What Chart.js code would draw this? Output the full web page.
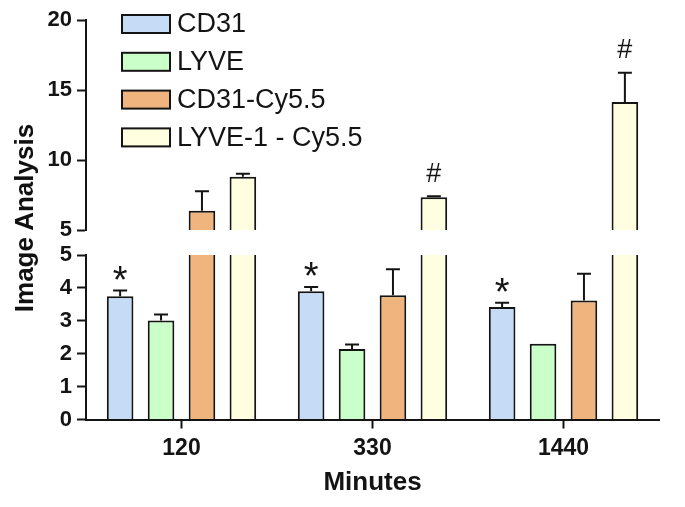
<!DOCTYPE html>
<html><head><meta charset="utf-8">
<script src="https://cdn.jsdelivr.net/npm/chart.js@4.4.1/dist/chart.umd.min.js"></script>
<style>
html,body{margin:0;padding:0;background:#fff;}
#wrap{position:relative;width:685px;height:507px;overflow:hidden;background:#fff;}
#topBox{position:absolute;left:0;top:0;width:685px;height:240px;}
#botBox{position:absolute;left:0;top:240px;width:685px;height:267px;}
#ytitle{position:absolute;left:-126px;top:203px;width:300px;height:30px;line-height:30px;text-align:center;transform:rotate(-90deg);font:bold 26px "Liberation Sans",Arial,sans-serif;color:#111;white-space:nowrap;}
</style></head>
<body>
<div id="wrap">
  <div id="topBox"><canvas id="cTop"></canvas></div>
  <div id="botBox"><canvas id="cBot"></canvas></div>
  <div id="ytitle">Image Analysis</div>
</div>
<script>
// ---- data ----
const categories = ['120', '330', '1440'];
const seriesNames = ['CD31', 'LYVE', 'CD31-Cy5.5', 'LYVE-1 - Cy5.5'];
const cd31 = [3.75, 3.90, 3.42];
const cd31Err = [0.17, 0.13, 0.13];
const lyve = [3.01, 2.14, 2.30];
const lyveErr = [0.18, 0.14, 0];
const cd31Cy = [6.38, 3.78, 3.62];
const cd31CyErr = [1.38, 0.79, 0.81];
const lyve1Cy = [8.81, 7.34, 14.14];
const lyve1CyErr = [0.21, 0.07, 2.10];
const cd31Marks = ['*', '*', '*'];
const lyveMarks = ['', '', ''];
const cd31CyMarks = ['', '', ''];
const lyve1CyMarks = ['', '#', '#'];
const topTicks = [5, 10, 15, 20];
const bottomTicks = [0, 1, 2, 3, 4, 5];

// ---- styles ----
const FAMILY = '"Liberation Sans", Arial, Helvetica, sans-serif';
const INK = '#141414';
const fills = ['#c6dbf5', '#caffca', '#f0b57e', '#fffee0'];

function makeDatasets() {
  const vals = [cd31, lyve, cd31Cy, lyve1Cy];
  const errs = [cd31Err, lyveErr, cd31CyErr, lyve1CyErr];
  const marks = [cd31Marks, lyveMarks, cd31CyMarks, lyve1CyMarks];
  return seriesNames.map((name, i) => ({
    label: name,
    data: vals[i].slice(),
    errors: errs[i],
    marks: marks[i],
    backgroundColor: fills[i],
    borderColor: INK,
    borderWidth: 2,
    borderSkipped: 'start',
    categoryPercentage: 0.857,
    barPercentage: 0.65
  }));
}

const errorPlugin = {
  id: 'errorBars',
  afterDatasetsDraw(chart) {
    const ctx = chart.ctx, ca = chart.chartArea, ys = chart.scales.y;
    ctx.save();
    ctx.beginPath();
    ctx.rect(ca.left, ca.top - 1, ca.right - ca.left, ca.bottom - ca.top + 1);
    ctx.clip();
    ctx.strokeStyle = INK;
    ctx.lineWidth = 2;
    chart.data.datasets.forEach((ds, i) => {
      const meta = chart.getDatasetMeta(i);
      meta.data.forEach((bar, j) => {
        const e = ds.errors[j];
        if (!e) return;
        const x = bar.x;
        const y0 = ys.getPixelForValue(ds.data[j]);
        const y1 = ys.getPixelForValue(ds.data[j] + e);
        ctx.beginPath();
        ctx.moveTo(x, y0); ctx.lineTo(x, y1);
        ctx.moveTo(x - 7, y1); ctx.lineTo(x + 7, y1);
        ctx.stroke();
      });
    });
    ctx.restore();
    // significance marks
    ctx.save();
    ctx.fillStyle = INK;
    ctx.textAlign = 'center';
    ctx.textBaseline = 'alphabetic';
    chart.data.datasets.forEach((ds, i) => {
      const meta = chart.getDatasetMeta(i);
      meta.data.forEach((bar, j) => {
        const m = ds.marks[j];
        if (!m) return;
        const yt = ys.getPixelForValue(ds.data[j] + (ds.errors[j] || 0));
        if (yt < ca.top || yt > ca.bottom) return;
        const star = m === '*';
        ctx.font = (star ? '38px ' : '27px ') + FAMILY;
        const tm = ctx.measureText(m);
        const cy = yt - (star ? 18 : 24);
        const base = cy + (tm.actualBoundingBoxAscent - tm.actualBoundingBoxDescent) / 2;
        ctx.fillText(m, bar.x, base);
      });
    });
    ctx.restore();
  }
};

const legendPlugin = {
  id: 'boxLegend',
  afterDraw(chart) {
    const ctx = chart.ctx;
    ctx.save();
    ctx.font = '27px ' + FAMILY;
    ctx.textBaseline = 'middle';
    ctx.textAlign = 'left';
    chart.data.datasets.forEach((ds, i) => {
      const cy = 24 + i * 37.8;
      ctx.fillStyle = ds.backgroundColor;
      ctx.fillRect(122, cy - 9, 48, 18);
      ctx.strokeStyle = INK;
      ctx.lineWidth = 2;
      ctx.strokeRect(122, cy - 9, 48, 18);
      ctx.fillStyle = INK;
      ctx.fillText(ds.label, 177, cy + 1);
    });
    ctx.restore();
  }
};

function yScale(min, max, step, ticksList) {
  return {
    min: min, max: max,
    afterFit(s) { s.width = 86; s.paddingTop = 0; s.paddingBottom = 0; },
    afterBuildTicks(s) { s.ticks = ticksList.map(v => ({ value: v })); },
    border: { display: true, color: INK, width: 2 },
    grid: { display: true, drawOnChartArea: false, drawTicks: true, tickLength: 9, tickColor: INK, tickWidth: 2 },
    ticks: { stepSize: step, padding: 5, color: INK, font: { family: FAMILY, size: 22, weight: 'bold' } }
  };
}

Chart.defaults.font.family = FAMILY;

new Chart(document.getElementById('cTop'), {
  type: 'bar',
  data: { labels: categories, datasets: makeDatasets() },
  options: {
    responsive: true, maintainAspectRatio: false, animation: false, devicePixelRatio: 1,
    layout: { padding: { top: 20, bottom: 10, left: 0, right: 26 } },
    plugins: { legend: { display: false }, tooltip: { enabled: false } },
    scales: {
      x: { display: false, offset: true },
      y: yScale(5, 20, 5, topTicks)
    }
  },
  plugins: [errorPlugin, legendPlugin]
});

new Chart(document.getElementById('cBot'), {
  type: 'bar',
  data: { labels: categories, datasets: makeDatasets() },
  options: {
    responsive: true, maintainAspectRatio: false, animation: false, devicePixelRatio: 1,
    layout: { padding: { top: 15, bottom: 0, left: 0, right: 26 } },
    plugins: { legend: { display: false }, tooltip: { enabled: false } },
    scales: {
      x: {
        offset: true,
        afterFit(s) { s.height = 87.5; s.paddingLeft = 0; s.paddingRight = 0; },
        border: { display: true, color: INK, width: 2 },
        grid: { display: true, offset: false, drawOnChartArea: false, drawTicks: true, tickLength: 9, tickColor: INK, tickWidth: 2 },
        ticks: { padding: 6, color: INK, font: { family: FAMILY, size: 23, weight: 'bold' } },
        title: { display: true, text: 'Minutes', color: INK, font: { family: FAMILY, size: 26, weight: 'bold' }, padding: { top: 0, bottom: 9 } }
      },
      y: yScale(0, 5, 1, bottomTicks)
    }
  },
  plugins: [errorPlugin]
});
</script>
</body></html>
